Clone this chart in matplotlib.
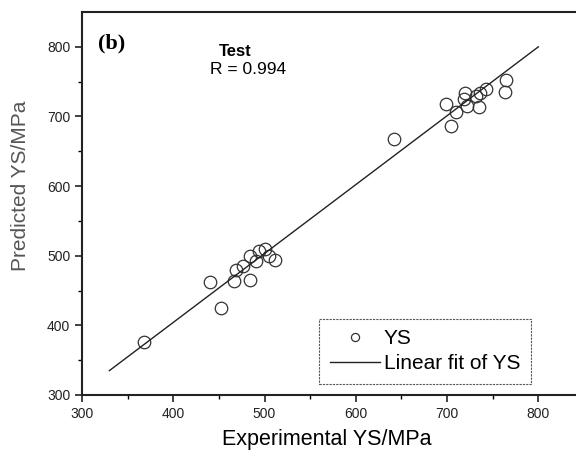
import numpy as np
import matplotlib.pyplot as plt

# experimental vs predicted yield strength (test set)
exp_ys = [368, 440, 452, 466, 469, 476, 484, 484, 491, 494, 500, 505, 512,
          642, 699, 704, 710, 718, 720, 722, 732, 735, 736, 743, 763, 764]
pred_ys = [376, 462, 425, 464, 480, 485, 465, 500, 492, 507, 509, 499, 494,
           668, 718, 686, 706, 725, 734, 715, 730, 713, 734, 739, 735, 752]

# linear fit line end points
fit_x = [330, 800]
fit_y = [335, 800]

plt.rcParams['font.family'] = ['Liberation Sans', 'DejaVu Sans']

fig = plt.figure(figsize=(5.76, 4.55), dpi=100)
# axes run off the right edge like the cropped scan
ax = fig.add_axes([82/576, 60/455, 502/576, 383/455])

ax.plot(exp_ys, pred_ys, 'o', mfc='none', mec='#333333', ms=9, mew=0.9, label='YS')
ax.plot(fit_x, fit_y, '-', color='#222222', lw=1.0, label='Linear fit of YS')

ax.set_xlim(300, 850)
ax.set_ylim(300, 850)
ax.set_xticks([300, 400, 500, 600, 700, 800])
ax.set_yticks([300, 400, 500, 600, 700, 800])
ax.set_xticks(np.arange(350, 850, 100), minor=True)
ax.set_yticks(np.arange(350, 850, 100), minor=True)
ax.tick_params(which='major', length=5, width=1.2, labelsize=10, colors='#222222')
ax.tick_params(which='minor', length=3, width=1.0)
for s in ax.spines.values():
    s.set_linewidth(1.5)
    s.set_color('#222222')

ax.set_xlabel('Experimental YS/MPa', fontsize=15.5)
ax.set_ylabel('Predicted YS/MPa', fontsize=15, color='#555555')
ax.xaxis.set_label_coords(0.488, -0.088)
ax.yaxis.set_label_coords(-0.103, 0.546)

ax.text(0.032, 0.919, '(b)', transform=ax.transAxes, fontsize=16, fontweight='bold',
        family='Liberation Serif', va='center')
ax.text(0.305, 0.898, 'Test', transform=ax.transAxes, fontsize=12, fontweight='bold',
        ha='center', va='center')
ax.text(0.331, 0.851, 'R = 0.994', transform=ax.transAxes, fontsize=12.5,
        ha='center', va='center')

leg = ax.legend(loc='lower right', bbox_to_anchor=(0.894, 0.029), borderaxespad=0,
                fontsize=15, fancybox=False, edgecolor='#555555', framealpha=1,
                markerscale=0.65, handlelength=2.4, handletextpad=0.2,
                borderpad=0.5, labelspacing=0.3)
leg.get_frame().set_linewidth(0.8)
leg.get_frame().set_linestyle((0, (2, 1)))

plt.savefig('out.png', dpi=100)
